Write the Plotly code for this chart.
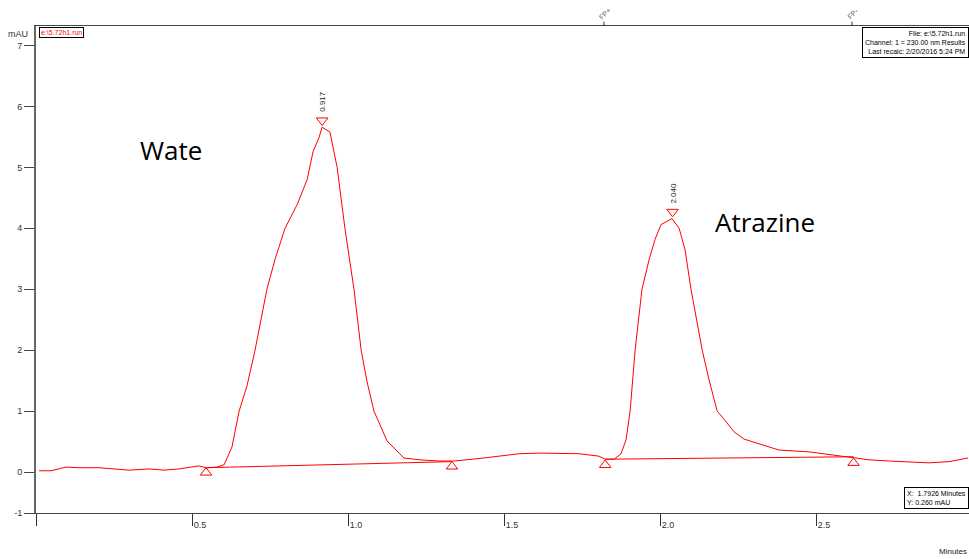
import plotly.graph_objects as go

# Chromatogram trace (minutes, mAU)
time_min = [0.010, 0.048, 0.096, 0.138, 0.202, 0.250, 0.298, 0.362, 0.410, 0.458,
            0.490, 0.522, 0.545, 0.580, 0.603, 0.628, 0.651, 0.676, 0.702, 0.721,
            0.740, 0.766, 0.798, 0.837, 0.869, 0.888, 0.907, 0.917, 0.942, 0.965,
            0.990, 1.019, 1.042, 1.061, 1.083, 1.125, 1.179, 1.228, 1.292, 1.340,
            1.388, 1.436, 1.484, 1.548, 1.612, 1.676, 1.740, 1.804, 1.824, 1.853,
            1.875, 1.891, 1.904, 1.920, 1.942, 1.965, 1.984, 2.003, 2.022, 2.038,
            2.061, 2.080, 2.099, 2.135, 2.157, 2.183, 2.206, 2.237, 2.269, 2.317,
            2.349, 2.381, 2.478, 2.558, 2.606, 2.670, 2.734, 2.798, 2.862, 2.926,
            2.987]
signal_mau = [0.02, 0.02, 0.08, 0.07, 0.07, 0.05, 0.03, 0.05, 0.03, 0.05,
              0.08, 0.10, 0.07, 0.08, 0.12, 0.41, 1.00, 1.41, 2.00, 2.50,
              3.00, 3.49, 4.00, 4.39, 4.80, 5.26, 5.49, 5.66, 5.58, 5.00,
              4.00, 3.00, 2.00, 1.48, 1.00, 0.51, 0.23, 0.20, 0.18, 0.18,
              0.20, 0.23, 0.26, 0.30, 0.31, 0.31, 0.30, 0.26, 0.21, 0.21,
              0.30, 0.53, 1.00, 2.00, 3.00, 3.49, 3.82, 4.06, 4.11, 4.16,
              4.00, 3.65, 3.00, 2.00, 1.51, 1.00, 0.86, 0.66, 0.54, 0.46,
              0.41, 0.36, 0.33, 0.28, 0.25, 0.20, 0.18, 0.16, 0.15, 0.17,
              0.23]

# Integration baselines
baseline1_x = [0.545, 1.333]
baseline1_y = [0.07, 0.17]
baseline2_x = [1.824, 2.620]
baseline2_y = [0.21, 0.25]

# Peak apexes
peak_times = [0.917, 2.040]
peak_heights = [5.66, 4.16]
peak_labels = ["0.917", "2.040"]

# Baseline event markers
event_times = [0.545, 1.333, 1.824, 2.620]
event_y = [-0.01, 0.09, 0.115, 0.15]

# Timed events at top
fp_times = [1.820, 2.615]
fp_labels = ["FP+", "FP-"]

x_ticks = [0, 0.5, 1.0, 1.5, 2.0, 2.5]
x_ticklabels = ["", "0.5", "1.0", "1.5", "2.0", "2.5"]
y_min = -0.673
y_ticks = [y_min, 0, 1, 2, 3, 4, 5, 6, 7]
y_ticklabels = ["-1", "0", "1", "2", "3", "4", "5", "6", "7"]

RED = "#ff0000"

fig = go.Figure()
fig.add_trace(go.Scatter(x=time_min, y=signal_mau, mode="lines",
                         line=dict(color=RED, width=1), hoverinfo="skip"))
fig.add_trace(go.Scatter(x=baseline1_x, y=baseline1_y, mode="lines",
                         line=dict(color=RED, width=1), hoverinfo="skip"))
fig.add_trace(go.Scatter(x=baseline2_x, y=baseline2_y, mode="lines",
                         line=dict(color=RED, width=1), hoverinfo="skip"))
fig.add_trace(go.Scatter(x=event_times, y=event_y, mode="markers",
                         marker=dict(symbol="triangle-up-open", size=10,
                                     color=RED, line=dict(width=1))))
fig.add_trace(go.Scatter(x=peak_times, y=[h + 0.11 for h in peak_heights], mode="markers",
                         marker=dict(symbol="triangle-down-open", size=10,
                                     color=RED, line=dict(width=1))))

annotations = []
for t, h, lab in zip(peak_times, peak_heights, peak_labels):
    annotations.append(dict(x=t, y=h, xref="x", yref="y", text=lab, showarrow=False,
                            textangle=-90, yanchor="bottom", yshift=13,
                            font=dict(size=8, color="#222", family="Liberation Sans")))
for t, lab in zip(fp_times, fp_labels):
    annotations.append(dict(x=t, y=1, xref="x", yref="paper", text=lab, showarrow=False,
                            textangle=-45, yanchor="bottom", xanchor="center",
                            yshift=3, xshift=1,
                            font=dict(size=7, color="#555", family="Liberation Sans")))
annotations += [
    dict(x=0.433, y=5.29, xref="x", yref="y", text="Wate", showarrow=False,
         font=dict(size=26, color="#000", family="Open Sans")),
    dict(x=2.335, y=4.10, xref="x", yref="y", text="Atrazine", showarrow=False,
         font=dict(size=26, color="#000", family="Open Sans")),
    dict(x=0.003, y=0.998, xref="paper", yref="paper", text="e:\\5.72h1.run",
         showarrow=False, xanchor="left", yanchor="top", bordercolor="#000",
         borderwidth=1, borderpad=1, bgcolor="white",
         font=dict(size=7, color=RED, family="Liberation Sans")),
    dict(x=1.0, y=0.998, xref="paper", yref="paper",
         text="File: e:\\5.72h1.run<br>Channel: 1 = 230.00 nm Results<br>Last recalc: 2/20/2016 5:24 PM",
         showarrow=False, xanchor="right", yanchor="top", align="right",
         bordercolor="#000", borderwidth=1, borderpad=2, bgcolor="white",
         font=dict(size=7, color="#000", family="Liberation Sans")),
    dict(x=1.0, y=0.008, xref="paper", yref="paper",
         text="X:  1.7926 Minutes<br>Y: 0.260 mAU",
         showarrow=False, xanchor="right", yanchor="bottom", align="left",
         bordercolor="#000", borderwidth=1, borderpad=2, bgcolor="white",
         font=dict(size=7, color="#000", family="Liberation Sans")),
    dict(x=1.0, y=-0.08, xref="paper", yref="paper", text="Minutes", showarrow=False,
         xanchor="right", yanchor="middle", font=dict(size=8, color="#222",
                                                      family="Liberation Sans")),
    dict(x=-0.006, y=1.0, xref="paper", yref="paper", text="mAU", showarrow=False,
         xanchor="right", yanchor="top", yshift=-1,
         font=dict(size=9, color="#333", family="Liberation Sans")),
]

shapes = []
for t in fp_times:
    shapes.append(dict(type="line", xref="x", yref="paper", x0=t, x1=t, y0=1, y1=1.009,
                       line=dict(color="#333", width=1)))

fig.update_layout(
    width=969, height=559,
    margin=dict(l=36, r=0, t=26, b=46),
    paper_bgcolor="white", plot_bgcolor="white",
    showlegend=False,
    annotations=annotations,
    shapes=shapes,
    font=dict(family="Liberation Sans", color="#333"),
    xaxis=dict(range=[0, 2.99], tickvals=x_ticks, ticktext=x_ticklabels,
               showgrid=False, zeroline=False, showline=True, linecolor="#444",
               linewidth=1, mirror=True, ticks="outside", ticklen=12, tickcolor="#333",
               tickwidth=1, ticklabelshift=8, ticklabelstandoff=-9,
               tickfont=dict(size=9, color="#333")),
    yaxis=dict(range=[y_min, 7.32], tickvals=y_ticks, ticktext=y_ticklabels,
               showgrid=False, zeroline=False,
               showline=True, linecolor="#666", linewidth=2, ticks="outside",
               ticklen=10, tickcolor="#444", tickwidth=1,
               tickfont=dict(size=9, color="#333")),
)

fig.write_html("out.html", config={"displayModeBar": False},
               post_script="document.body.style.margin='0';document.body.style.overflow='hidden';")
